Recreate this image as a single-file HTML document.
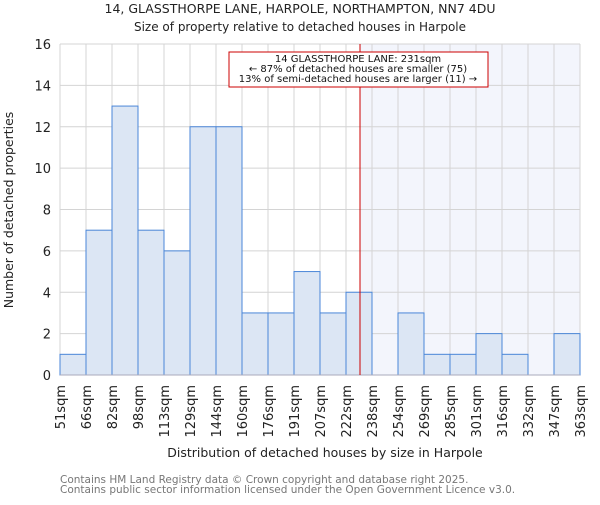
<!DOCTYPE html>
<html><head><meta charset="utf-8"><style>
body{margin:0;background:#fff}
svg{font-family:"DejaVu Sans","Liberation Sans",sans-serif}
</style></head><body>
<svg id="c" width="600" height="500" xmlns="http://www.w3.org/2000/svg">
<text x="300" y="13" text-anchor="middle" font-size="12.5" fill="#222">14, GLASSTHORPE LANE, HARPOLE, NORTHAMPTON, NN7 4DU</text>
<text x="300" y="31" text-anchor="middle" font-size="12" fill="#222">Size of property relative to detached houses in Harpole</text>
<g id="plot"></g>
<text x="325" y="457" text-anchor="middle" font-size="12.5" fill="#222">Distribution of detached houses by size in Harpole</text>
<text transform="translate(13,210) rotate(-90)" text-anchor="middle" font-size="12.5" fill="#222">Number of detached properties</text>
<text x="60" y="483" font-size="10.5" fill="#777">Contains HM Land Registry data © Crown copyright and database right 2025.</text>
<text x="60" y="493" font-size="10.5" fill="#777">Contains public sector information licensed under the Open Government Licence v3.0.</text>
</svg>
<script>
const categories=["51sqm","66sqm","82sqm","98sqm","113sqm","129sqm","144sqm","160sqm","176sqm","191sqm","207sqm","222sqm","238sqm","254sqm","269sqm","285sqm","301sqm","316sqm","332sqm","347sqm","363sqm"];
const counts=[1,7,13,7,6,12,12,3,3,5,3,4,0,3,1,1,2,1,0,2];
const yTicks=[0,2,4,6,8,10,12,14,16];
const propertySize=231;
const binStart=51, binWidth=15.6;
const X0=60,X1=580,Y0=375,Y1=44,YMAX=16;
const bw=(X1-X0)/counts.length;
const x=i=>X0+i*bw;
const y=v=>Y0-(v/YMAX)*(Y0-Y1);
const xs=s=>X0+(s-binStart)/binWidth*bw;
const NS="http://www.w3.org/2000/svg";
const g=document.getElementById('plot');
function mk(t,a,p){const e=document.createElementNS(NS,t);for(const k in a)e.setAttribute(k,a[k]);(p||g).appendChild(e);return e;}
const rx=xs(propertySize);
const sh=mk('rect',{x:rx,y:Y1,width:X1-rx,height:Y0-Y1,fill:'#f3f5fc'});


for(let i=0;i<=counts.length;i++){const l=mk('line',{x1:x(i),x2:x(i),y1:Y1,y2:Y0,stroke:'#d4d4d4','stroke-width':1});

}
yTicks.forEach(t=>{const l=mk('line',{x1:X0,x2:X1,y1:y(t),y2:y(t),stroke:'#d4d4d4','stroke-width':1});


const tx=mk('text',{x:X0-9,y:y(t)+5,'text-anchor':'end','font-size':13,fill:'#222'});tx.textContent=t;

});
counts.forEach((v,i)=>{if(v<=0)return;const r=mk('rect',{x:x(i),y:y(v),width:bw,height:Y0-y(v),fill:'#dce6f4',stroke:'#4a86d8','stroke-width':1});

});
const ax=mk('line',{x1:X0,x2:X1,y1:Y0,y2:Y0,stroke:'#aab','stroke-width':1});


categories.forEach((c,i)=>{const t=mk('text',{transform:`translate(${x(i)+5},385) rotate(-90)`,'text-anchor':'end','font-size':13,fill:'#222'});t.textContent=c;

});
const ml=mk('line',{x1:rx,x2:rx,y1:Y1,y2:Y0,stroke:'#cc0000','stroke-width':1});


const box=mk('rect',{x:229,y:52,width:259,height:35,fill:'#fff',stroke:'#cc0000','stroke-width':1});


["14 GLASSTHORPE LANE: 231sqm","← 87% of detached houses are smaller (75)","13% of semi-detached houses are larger (11) →"].forEach((s,i)=>{const t=mk('text',{x:358,y:62+i*10,'text-anchor':'middle','font-size':10,fill:'#111'});t.textContent=s;

});
</script>
</body></html>
